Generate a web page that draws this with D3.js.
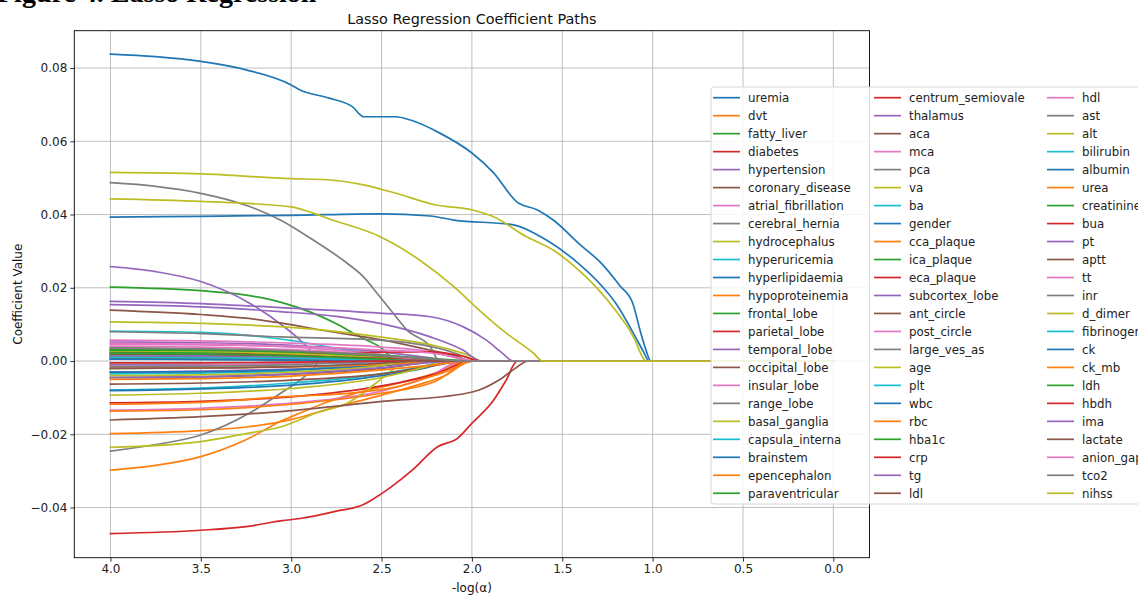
<!DOCTYPE html>
<html><head><meta charset="utf-8">
<script src="https://cdn.jsdelivr.net/npm/d3@7"></script>
<style>body{margin:0;background:#fff;overflow:hidden} text{font-family:'DejaVu Sans',sans-serif;}</style>
</head><body><svg id="chart" width="1138" height="595"></svg>
<script>
const features = ["uremia","dvt","fatty_liver","diabetes","hypertension","coronary_disease","atrial_fibrillation","cerebral_hernia","hydrocephalus","hyperuricemia","hyperlipidaemia","hypoproteinemia","frontal_lobe","parietal_lobe","temporal_lobe","occipital_lobe","insular_lobe","range_lobe","basal_ganglia","capsula_interna","brainstem","epencephalon","paraventricular",
"centrum_semiovale","thalamus","aca","mca","pca","va","ba","gender","cca_plaque","ica_plaque","eca_plaque","subcortex_lobe","ant_circle","post_circle","large_ves_as","age","plt","wbc","rbc","hba1c","crp","tg","ldl",
"hdl","ast","alt","bilirubin","albumin","urea","creatinine","bua","pt","aptt","tt","inr","d_dimer","fibrinogen","ck","ck_mb","ldh","hbdh","ima","lactate","anion_gap","tco2","nihss"];

// coefficient paths: [-log(alpha), coefficient] pairs, one list per feature (same order)
const coefPaths = [
[[4,0.0838],[3.75,0.0831],[3.5,0.0818],[3.25,0.0795],[3.0,0.0754],[2.95,0.0740],[2.79,0.0718],[2.66,0.0694],[2.6,0.0667],[2.42,0.0667],[2.34,0.0658],[2.18,0.0623],[2.0,0.0568],[1.88,0.0514],[1.75,0.0434],[1.64,0.0413],[1.55,0.0385],[1.4,0.0317],[1.29,0.027],[1.18,0.0205],[1.11,0.0158],[1.07,0.0085],[1.04,0.0035],[1.01,0],[0,0]],
[[4,-0.0298],[3.75,-0.0285],[3.5,-0.0261],[3.25,-0.0215],[3.06,-0.0165],[2.95,-0.0142],[2.8,-0.0112],[2.6,-0.0082],[2.4,-0.006],[2.2,-0.0032],[2.02,0],[0,0]],
[[4,0.0202],[3.5,0.0192],[3.25,0.018],[3.06,0.0161],[2.9,0.0135],[2.75,0.0102],[2.62,0.0066],[2.51,0.0039],[2.41,0],[0,0]],
[[4,-0.0471],[3.5,-0.0462],[3.25,-0.0452],[3.05,-0.0436],[2.95,-0.0430],[2.75,-0.0410],[2.6,-0.0392],[2.55,-0.0378],[2.45,-0.0345],[2.33,-0.0298],[2.19,-0.0234],[2.08,-0.0211],[2.0,-0.017],[1.88,-0.0107],[1.81,-0.0052],[1.75,0],[0,0]],
[[4,0.0258],[3.75,0.0244],[3.5,0.0217],[3.23,0.0158],[3.04,0.0094],[2.95,0.0057],[2.88,0.0022],[2.84,0],[0,0]],
[[4,0.0139],[3.5,0.0127],[3.25,0.0117],[3.06,0.0104],[2.78,0.008],[2.5,0.0058],[2.25,0.0032],[2.08,0.0012],[2.0,0],[0,0]],
[[4,-0.0134],[3.5,-0.0129],[3.0,-0.0115],[2.5,-0.0082],[2.25,-0.0045],[2.05,0],[0,0]],
[[4,0.0487],[3.75,0.0477],[3.5,0.0458],[3.23,0.0422],[3.06,0.0385],[2.88,0.0331],[2.69,0.0267],[2.6,0.023],[2.51,0.0176],[2.42,0.0121],[2.36,0.0085],[2.23,0.0039],[2.18,0],[0,0]],
[[4,0.0107],[3.5,0.0103],[2.95,0.009],[2.51,0.0066],[2.18,0.0039],[2.0,0.0012],[1.95,0],[0,0]],
[[4,0.0082],[3.5,0.0078],[3.0,0.0056],[2.75,0.0035],[2.5,0.0015],[2.35,0],[0,0]],
[[4,0.0021],[3.5,0.002],[3.0,0.0016],[2.5,0.0007],[2.4,0],[0,0]],
[[4,-0.0198],[3.5,-0.019],[3.0,-0.016],[2.75,-0.0125],[2.5,-0.0093],[2.3,-0.0065],[2.15,-0.004],[2.0,0],[0,0]],
[[4,0.0036],[3.5,0.0033],[3.0,0.0025],[2.5,0.001],[2.35,0],[0,0]],
[[4,-0.0114],[3.5,-0.011],[3.0,-0.0098],[2.5,-0.0068],[2.2,-0.0035],[2.0,0],[0,0]],
[[4,0.0052],[3.5,0.005],[3.0,0.0043],[2.5,0.0025],[2.25,0.001],[2.1,0],[0,0]],
[[4,-0.0045],[3.5,-0.0043],[3.0,-0.0036],[2.5,-0.002],[2.15,0],[0,0]],
[[4,0.0048],[3.5,0.0046],[3.0,0.0038],[2.5,0.0018],[2.25,0],[0,0]],
[[4,-0.0246],[3.75,-0.0228],[3.5,-0.0202],[3.23,-0.0142],[3.05,-0.0085],[2.95,-0.0052],[2.88,-0.0022],[2.84,0],[0,0]],
[[4,-0.0236],[3.5,-0.022],[3.25,-0.0198],[3.06,-0.018],[2.85,-0.014],[2.69,-0.0115],[2.51,-0.0052],[2.43,-0.002],[2.38,0],[0,0]],
[[4,-0.0079],[3.5,-0.0074],[3.0,-0.006],[2.5,-0.0035],[2.25,-0.0012],[2.15,0],[0,0]],
[[4,-0.0081],[3.5,-0.0076],[3.0,-0.0066],[2.5,-0.004],[2.25,-0.0018],[2.1,0],[0,0]],
[[4,-0.0137],[3.5,-0.0133],[3.0,-0.0118],[2.5,-0.0088],[2.2,-0.0055],[2.0,0],[0,0]],
[[4,0.0032],[3.5,0.003],[3.0,0.0022],[2.5,0.0008],[2.4,0],[0,0]],
[[4,0.0024],[3.5,0.0023],[3.0,0.0019],[2.5,0.001],[2.2,0],[0,0]],
[[4,0.0163],[3.5,0.0157],[3.06,0.0146],[2.51,0.0131],[2.23,0.0121],[2.05,0.0094],[1.92,0.0057],[1.84,0.0025],[1.77,0],[0,0]],
[[4,-0.0063],[3.5,-0.006],[3.0,-0.0052],[2.5,-0.0035],[2.2,-0.0012],[2.05,0],[0,0]],
[[4,0.0057],[3.5,0.0055],[3.0,0.0049],[2.5,0.0038],[2.23,0.0025],[2.08,0.0008],[2.02,0],[0,0]],
[[4,0.008],[3.5,0.0075],[3.06,0.0066],[2.51,0.0057],[2.15,0.003],[2.0,0.0005],[1.97,0],[0,0]],
[[4,-0.0093],[3.5,-0.0088],[3.0,-0.0075],[2.5,-0.0045],[2.25,-0.0015],[2.15,0],[0,0]],
[[4,0.0015],[3.5,0.0014],[3.0,0.0011],[2.5,0.0004],[2.4,0],[0,0]],
[[4,0.0393],[3.5,0.0395],[3.0,0.0398],[2.51,0.0402],[2.23,0.0396],[2.1,0.0385],[1.77,0.0372],[1.59,0.0331],[1.4,0.0262],[1.3,0.0215],[1.2,0.0155],[1.1,0.007],[1.05,0.0025],[1.02,0],[0,0]],
[[4,-0.0118],[3.5,-0.0113],[3.06,-0.0098],[2.6,-0.0084],[2.41,-0.007],[2.29,-0.0052],[2.1,-0.002],[2.02,0],[0,0]],
[[4,0.0028],[3.5,0.0026],[3.0,0.0021],[2.5,0.0012],[2.2,0.0004],[2.05,0],[0,0]],
[[4,0.001],[3.5,0.0009],[3.0,0.0007],[2.5,0.0002],[2.3,0],[0,0]],
[[4,0.0154],[3.5,0.0148],[3.06,0.0135],[2.75,0.0122],[2.51,0.0103],[2.23,0.0066],[2.05,0.003],[1.95,0],[0,0]],
[[4,0.0012],[3.5,0.0011],[3.0,0.0008],[2.5,0.0003],[2.3,0],[0,0]],
[[4,-0.003],[3.5,-0.0029],[3.0,-0.0024],[2.5,-0.0013],[2.1,0],[0,0]],
[[4,0.0008],[3.5,0.0007],[3.0,0.0005],[2.5,0],[0,0]],
[[4,0.0515],[3.5,0.0511],[3.0,0.0498],[2.8,0.0495],[2.6,0.0481],[2.42,0.0458],[2.2,0.0426],[2.0,0.0413],[1.88,0.0394],[1.7,0.034],[1.55,0.0303],[1.4,0.0244],[1.3,0.0195],[1.2,0.0135],[1.1,0.006],[1.06,0.0015],[1.04,0],[0,0]],
[[4,-0.002],[3.5,-0.0019],[3.0,-0.0015],[2.5,-0.0008],[2.1,0],[0,0]],
[[4,-0.001],[3.5,-0.001],[3.0,-0.0008],[2.5,-0.0003],[2.3,0],[0,0]],
[[4,0.001],[3.5,0.0009],[3.0,0.0006],[2.5,0.0002],[2.3,0],[0,0]],
[[4,0.0025],[3.5,0.0023],[3.0,0.0016],[2.75,0.0008],[2.6,0],[0,0]],
[[4,0.0015],[3.5,0.0018],[3.0,0.002],[2.5,0.0024],[2.23,0.0025],[2.05,0.0013],[1.95,0],[0,0]],
[[4,-0.003],[3.5,-0.0028],[3.0,-0.0022],[2.5,-0.0012],[2.2,0],[0,0]],
[[4,-0.0161],[3.5,-0.0152],[3.06,-0.0138],[2.51,-0.0111],[2.03,-0.0088],[1.96,-0.0079],[1.85,-0.0052],[1.76,-0.002],[1.69,0],[0,0]],
[[4,0.004],[3.5,0.0038],[3.0,0.0031],[2.5,0.0016],[2.2,0],[0,0]],
[[4,0.002],[3.5,0.0019],[3.0,0.0015],[2.5,0.0007],[2.2,0],[0,0]],
[[4,0.0028],[3.5,0.0026],[3.0,0.002],[2.5,0.0008],[2.3,0],[0,0]],
[[4,-0.0035],[3.5,-0.0033],[3.0,-0.0026],[2.75,-0.0015],[2.5,0],[0,0]],
[[4,-0.003],[3.5,-0.0029],[3.0,-0.0024],[2.5,-0.0012],[2.2,0],[0,0]],
[[4,-0.002],[3.5,-0.0019],[3.0,-0.0016],[2.5,-0.0009],[2.1,0],[0,0]],
[[4,0.003],[3.5,0.0029],[3.0,0.0025],[2.5,0.0016],[2.2,0.0006],[2.0,0],[0,0]],
[[4,0.0018],[3.5,0.0017],[3.0,0.0014],[2.5,0.0007],[2.15,0],[0,0]],
[[4,0.0015],[3.5,0.0014],[3.0,0.001],[2.5,0.0003],[2.3,0],[0,0]],
[[4,0.0005],[3.5,0.0005],[3.0,0.0003],[2.6,0],[0,0]],
[[4,-0.0012],[3.5,-0.0011],[3.0,-0.0008],[2.5,-0.0002],[2.4,0],[0,0]],
[[4,-0.0015],[3.5,-0.0014],[3.0,-0.001],[2.45,0],[0,0]],
[[4,-0.004],[3.5,-0.0038],[3.0,-0.003],[2.5,-0.0012],[2.35,0],[0,0]],
[[4,0.001],[3.5,0.0009],[3.0,0.0007],[2.5,0.0003],[2.2,0],[0,0]],
[[4,0.0005],[3.5,0.0004],[3.0,0.0002],[2.5,0],[0,0]],
[[4,-0.005],[3.5,-0.0048],[3.0,-0.0041],[2.5,-0.0024],[2.2,-0.001],[2.05,0],[0,0]],
[[4,0.002],[3.5,0.0019],[3.0,0.0014],[2.5,0.0005],[2.3,0],[0,0]],
[[4,-0.0005],[3.5,-0.0005],[3.0,-0.0003],[2.5,0],[0,0]],
[[4,-0.0045],[3.5,-0.0043],[3.0,-0.0035],[2.5,-0.0018],[2.1,0],[0,0]],
[[4,-0.002],[3.5,-0.0019],[3.0,-0.0015],[2.5,-0.0006],[2.3,0],[0,0]],
[[4,0.0045],[3.5,0.0044],[3.0,0.0040],[2.5,0.003],[2.23,0.0022],[2.05,0.0006],[2.0,0],[0,0]],
[[4,0.0035],[3.5,0.0033],[3.0,0.0028],[2.5,0.0015],[2.2,0.0005],[2.05,0],[0,0]],
[[4,0.0443],[3.5,0.0436],[3.0,0.0421],[2.88,0.0404],[2.77,0.0385],[2.51,0.034],[2.29,0.0276],[2.1,0.0203],[1.96,0.0139],[1.81,0.0076],[1.66,0.0022],[1.61,0],[0,0]]
];

const xTicks = [4.0,3.5,3.0,2.5,2.0,1.5,1.0,0.5,0.0];
const yTicks = [-0.04,-0.02,0.00,0.02,0.04,0.06,0.08];
const palette = ["#1f77b4","#ff7f0e","#2ca02c","#d62728","#9467bd","#8c564b","#e377c2","#7f7f7f","#bcbd22","#17becf"];
const chartTitle = "Lasso Regression Coefficient Paths";
const xLabel = "-log(\u03b1)";
const yLabel = "Coefficient Value";
const headingText = "Figure 4. Lasso Regression";

const svg = d3.select("#chart");
const L = 74.3, R = 869.5, T = 30.7, B = 557.7;
const x = d3.scaleLinear().domain([4.2, -0.2]).range([L, R]);
const y = d3.scaleLinear().domain([-0.0537, 0.0902]).range([B, T]);

// cropped heading at very top (cut off in the original figure too)
svg.append("text").attr("x", -3).attr("y", 2)
  .style("font-family","'Liberation Serif',serif").style("font-weight","bold").style("font-size","28px")
  .attr("fill","#000").text(headingText);

// grid
const g = svg.append("g");
g.selectAll(".gx").data(xTicks).join("line")
  .attr("x1", d => x(d)).attr("x2", d => x(d)).attr("y1", T).attr("y2", B)
  .attr("stroke", "#b0b0b0").attr("stroke-width", 0.8);
g.selectAll(".gy").data(yTicks).join("line")
  .attr("y1", d => y(d)).attr("y2", d => y(d)).attr("x1", L).attr("x2", R)
  .attr("stroke", "#b0b0b0").attr("stroke-width", 0.8);

svg.append("clipPath").attr("id","clip").append("rect")
  .attr("x", L).attr("y", T).attr("width", R - L).attr("height", B - T);

const line = d3.line().x(d => x(d[0])).y(d => y(d[1])).curve(d3.curveMonotoneX);
svg.append("g").attr("clip-path","url(#clip)")
  .selectAll("path").data(coefPaths).join("path")
  .attr("d", line).attr("fill","none")
  .attr("stroke", (d,i) => palette[i % 10]).attr("stroke-width", 1.7)
  .attr("stroke-linejoin","round").attr("stroke-linecap","square");

// axes
const fmtMinus = s => s.replace("-", "\u2212");
const xAxis = d3.axisBottom(x).tickValues(xTicks).tickFormat(d3.format(".1f")).tickSize(4).tickPadding(3);
const yAxis = d3.axisLeft(y).tickValues(yTicks).tickFormat(d => fmtMinus(d3.format(".2f")(d))).tickSize(4).tickPadding(3);
const gx = svg.append("g").attr("transform", `translate(0,${B})`).call(xAxis);
const gy = svg.append("g").attr("transform", `translate(${L},0)`).call(yAxis);
[gx, gy].forEach(a => {
  a.select(".domain").remove();
  a.selectAll(".tick line").attr("stroke","#000").attr("stroke-width",0.8);
  a.selectAll(".tick text").style("font-family","'DejaVu Sans',sans-serif").style("font-size","12px").attr("fill","#222");
});
svg.append("rect").attr("x", L).attr("y", T).attr("width", R - L).attr("height", B - T)
  .attr("fill","none").attr("stroke","#000").attr("stroke-width",0.9);

svg.append("text").attr("x", (L + R) / 2).attr("y", 23.5).attr("text-anchor","middle")
  .style("font-size","14.4px").attr("fill","#111").text(chartTitle);
svg.append("text").attr("x", (L + R) / 2).attr("y", 592).attr("text-anchor","middle")
  .style("font-size","12px").attr("fill","#111").text(xLabel);
svg.append("text").attr("transform", `translate(22,${(T + B) / 2}) rotate(-90)`).attr("text-anchor","middle")
  .style("font-size","12px").attr("fill","#111").text(yLabel);

// legend
const legX = 711, legY = 87, legH = 417, rows = 23, rowH = 17.98;
const colHandle = [713, 874, 1047], colText = [748, 909, 1082];
const leg = svg.append("g");
leg.append("rect").attr("x", legX).attr("y", legY).attr("width", 460).attr("height", legH)
  .attr("rx", 3).attr("fill","#fff").attr("fill-opacity",0.85).attr("stroke","#d6d6d6").attr("stroke-width",1);
const items = leg.selectAll(".item").data(features).join("g")
  .attr("transform", (d,i) => `translate(0,${legY + 10.7 + (i % rows) * rowH})`);
items.append("line").attr("x1", (d,i) => colHandle[Math.floor(i / rows)]).attr("x2", (d,i) => colHandle[Math.floor(i / rows)] + 27)
  .attr("stroke", (d,i) => palette[i % 10]).attr("stroke-width", 1.7);
items.append("text").attr("x", (d,i) => colText[Math.floor(i / rows)]).attr("y", 4.3)
  .style("font-size","11.8px").attr("fill","#222").text(d => d);
</script></body></html>
